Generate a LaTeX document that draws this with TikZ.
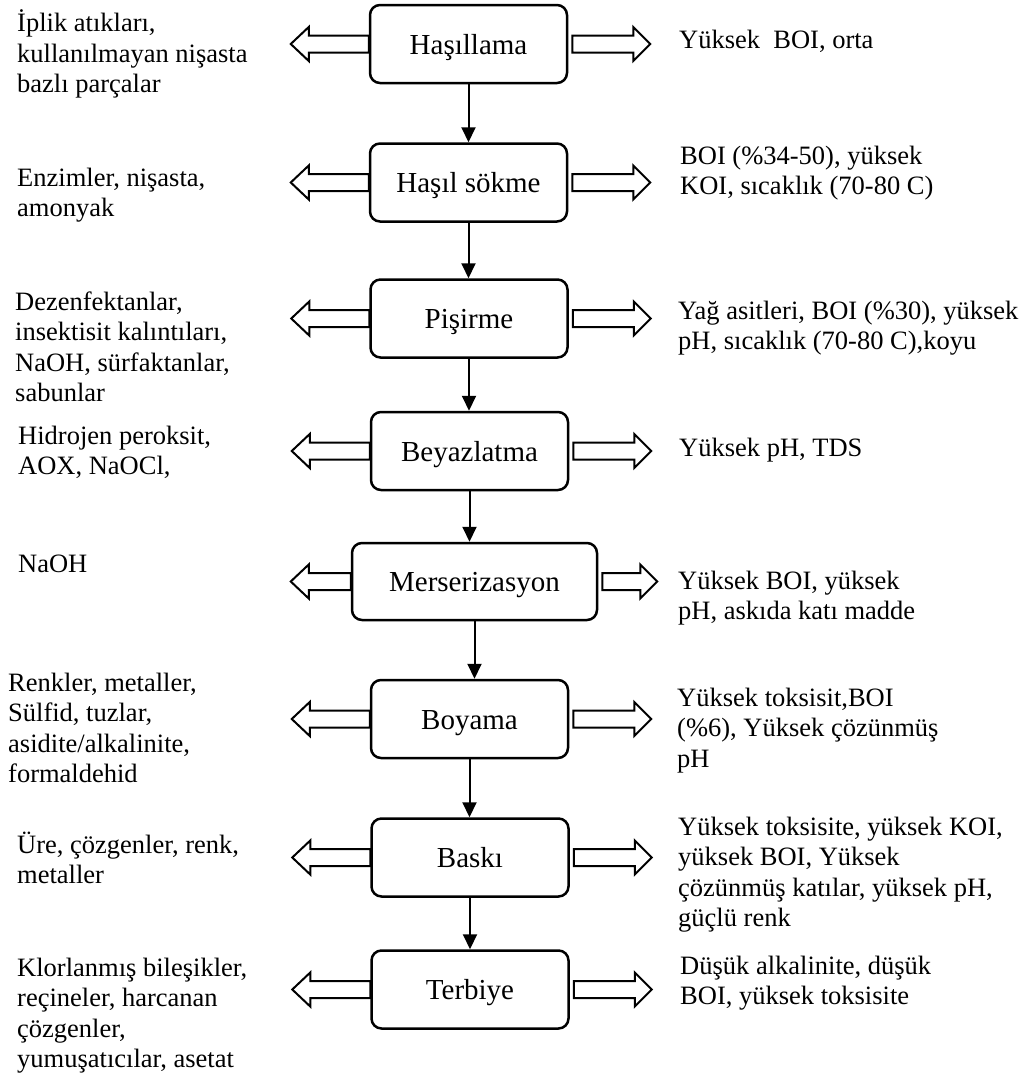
\documentclass[tikz,border=0pt]{standalone}
\usepackage{fontspec}
\setmainfont{Liberation Serif}
\usetikzlibrary{arrows.meta}

\newcommand{\boxfont}{\fontsize{29pt}{33pt}\selectfont}
\newcommand{\sidefont}{\fontsize{26.5pt}{30.5pt}\selectfont}

\begin{document}
\begin{tikzpicture}[x=1pt,y=-1pt,
    stepbox/.style={draw,line width=2.5pt,rounded corners=10pt,minimum width=197pt,minimum height=78pt,inner sep=0pt,text height=20pt,text depth=0pt,font=\boxfont},
    sidetext/.style={anchor=north west,align=left,inner sep=0pt,font=\sidefont,execute at begin node=\strut},
    flow/.style={-{Triangle[width=14pt,length=15pt]},line width=2pt},
    hollow/.style={draw,line width=2pt,fill=white,line join=miter}]

    \useasboundingbox (0,0) rectangle (1033,1087);

    % Process steps
    \node[stepbox] (hasil) at (468.5,44) {Haşıllama};
    \node[stepbox] (sokme) at (468.5,182.5) {Haşıl sökme};
    \node[stepbox] (pisir) at (469,318.5) {Pişirme};
    \node[stepbox] (beyaz) at (469.5,451) {Beyazlatma};
    \node[stepbox,minimum width=245pt,minimum height=77pt] (mers) at (474.5,581.5) {Merserizasyon};
    \node[stepbox] (boya) at (469.5,719) {Boyama};
    \node[stepbox] (baski) at (470,857.5) {Baskı};
    \node[stepbox] (terb) at (470,989.5) {Terbiye};

    % Flow between steps
    \foreach \a/\b in {hasil/sokme,sokme/pisir,pisir/beyaz,beyaz/mers,mers/boya,boya/baski,baski/terb} {
        \draw[flow] (\a.south) -- (\a.south |- \b.north);
    }

    % Hollow arrows, left (inputs) and right (outputs)
    \foreach \b/\l/\r in {hasil/60/61,sokme/60/61,pisir/60/61,beyaz/60/61,mers/42/38,boya/60/61,baski/60/61,terb/60/61} {
        \draw[hollow] (\b.west) ++(0,-8.5) -- ++(-\l,0) -- ++(0,-8.5) -- ++(-18,17) -- ++(18,17) -- ++(0,-8.5) -- ++(\l,0) -- cycle;
        \draw[hollow] (\b.east) ++(4,-8.5) -- ++(\r,0) -- ++(0,-8.5) -- ++(17,17) -- ++(-17,17) -- ++(0,-8.5) -- ++(-\r,0) -- cycle;
    }

    % Left texts
    \node[sidetext] (hasil-in) at (17,9.5) {İplik atıkları,\\kullanılmayan nişasta\\bazlı parçalar};
    \node[sidetext] (sokme-in) at (17,167.5) {Enzimler, nişasta,\\amonyak};
    \node[sidetext] (pisir-in) at (15,291.5) {Dezenfektanlar,\\insektisit kalıntıları,\\NaOH, sürfaktanlar,\\sabunlar};
    \node[sidetext] (beyaz-in) at (18,425.5) {Hidrojen peroksit,\\AOX, NaOCl,};
    \node[sidetext] (mers-in) at (18,550.5) {NaOH};
    \node[sidetext] (boya-in) at (8,672.5) {Renkler, metaller,\\Sülfid, tuzlar,\\asidite/alkalinite,\\formaldehid};
    \node[sidetext] (baski-in) at (17,831.5) {Üre, çözgenler, renk,\\metaller};
    \node[sidetext] (terb-in) at (17,957.5) {Klorlanmış bileşikler,\\reçineler, harcanan\\çözgenler,\\yumuşatıcılar, asetat};

    % Right texts
    \node[sidetext] (hasil-out) at (679,26.5) {Yüksek~ BOI, orta};
    \node[sidetext] (sokme-out) at (680,145.5) {BOI (\%34-50), yüksek\\KOI, sıcaklık (70-80 C)};
    \node[sidetext] (pisir-out) at (678,300.5) {Yağ asitleri, BOI (\%30), yüksek\\pH, sıcaklık (70-80 C),koyu};
    \node[sidetext] (beyaz-out) at (679,434.5) {Yüksek pH, TDS};
    \node[sidetext] (mers-out) at (678,570.5) {Yüksek BOI, yüksek\\pH, askıda katı madde};
    \node[sidetext] (boya-out) at (677,687.5) {Yüksek toksisit,BOI\\(\%6), Yüksek çözünmüş\\pH};
    \node[sidetext] (baski-out) at (678,816.5) {Yüksek toksisite, yüksek KOI,\\yüksek BOI, Yüksek\\çözünmüş katılar, yüksek pH,\\güçlü renk};
    \node[sidetext] (terb-out) at (680,955.5) {Düşük alkalinite, düşük\\BOI, yüksek toksisite};

\end{tikzpicture}
\end{document}
